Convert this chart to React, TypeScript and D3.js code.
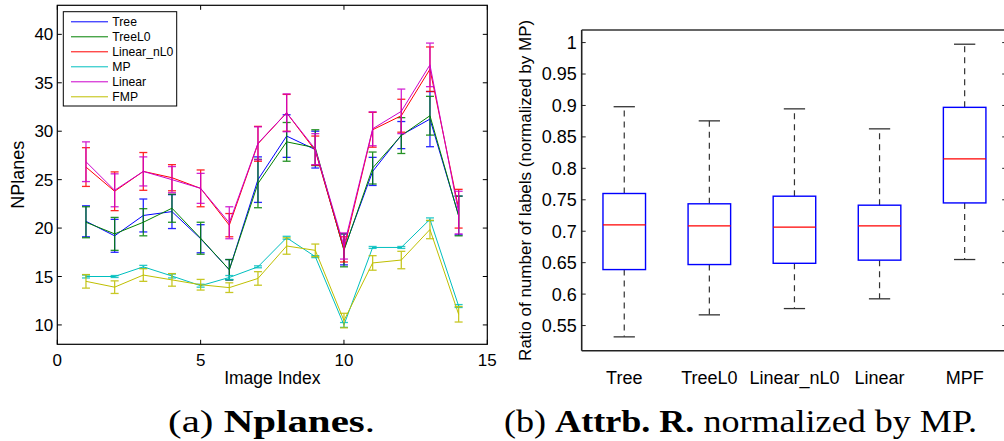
import React from 'react';
import * as d3 from 'd3';

// ---------- Data: left chart (NPlanes per image) ----------
const imageIndex = [1, 2, 3, 4, 5, 6, 7, 8, 9, 10, 11, 12, 13, 14];
const seriesNames = ['Tree', 'TreeL0', 'Linear_nL0', 'MP', 'Linear', 'FMP'];
const seriesColors = ['#0000ff', '#008000', '#ff0000', '#00bfbf', '#cc00cc', '#bfbf00'];

const treeVals = [20.7, 19.2, 21.3, 21.7, 18.9, 15.7, 25.0, 29.5, 28.1, 17.8, 25.85, 29.6, 31.25, 21.3];
const treeErr = [1.6, 1.7, 1.7, 1.75, 1.45, 1.05, 2.35, 2.2, 1.9, 1.6, 1.45, 1.4, 2.85, 2.0];
const treeL0Vals = [20.6, 19.4, 20.6, 22.05, 18.95, 15.7, 24.6, 28.9, 28.3, 17.7, 26.2, 29.55, 31.6, 21.25];
const treeL0Err = [1.6, 1.7, 1.4, 1.45, 1.65, 1.05, 2.5, 2.0, 1.85, 1.7, 1.65, 1.85, 2.0, 2.05];
const linearNL0Vals = [26.3, 23.8, 25.85, 25.2, 24.1, 20.3, 28.7, 31.9, 28.0, 17.8, 30.15, 31.6, 36.4, 22.0];
const linearNL0Err = [2.0, 2.0, 1.95, 1.35, 1.9, 1.2, 1.8, 1.9, 1.5, 1.3, 1.8, 1.7, 2.3, 2.0];
const mpVals = [15.0, 15.0, 16.0, 15.05, 14.05, 14.9, 16.0, 19.0, 17.05, 10.0, 18.0, 18.0, 20.9, 11.95];
const mpErr = [0.15, 0.1, 0.15, 0.2, 0.15, 0.2, 0.1, 0.15, 0.1, 0.25, 0.1, 0.1, 0.15, 0.15];
const linearVals = [26.85, 23.9, 25.85, 25.0, 24.1, 20.55, 28.75, 31.9, 28.15, 18.15, 30.25, 32.05, 36.85, 21.6];
const linearErr = [2.05, 1.7, 1.5, 1.35, 1.55, 1.65, 1.7, 1.95, 1.6, 1.35, 1.75, 2.3, 2.25, 2.2];
const fmpVals = [14.5, 13.9, 15.15, 14.65, 14.15, 13.85, 14.8, 18.15, 17.7, 10.45, 16.4, 16.7, 19.85, 11.1];
const fmpErr = [0.7, 0.65, 0.65, 0.65, 0.55, 0.5, 0.7, 0.85, 0.65, 0.75, 0.75, 0.9, 0.95, 0.8];

const leftXTicks = [0, 5, 10, 15];
const leftYTicks = [10, 15, 20, 25, 30, 35, 40];

// ---------- Data: right chart (box plot) ----------
const boxCategories = ['Tree', 'TreeL0', 'Linear_nL0', 'Linear', 'MPF'];
const boxLowerWhisker = [0.532, 0.567, 0.577, 0.5925, 0.655];
const boxQ1 = [0.639, 0.647, 0.649, 0.654, 0.745];
const boxMedian = [0.71, 0.7086, 0.7064, 0.7086, 0.815];
const boxQ3 = [0.76, 0.7436, 0.7557, 0.7414, 0.897];
const boxUpperWhisker = [0.898, 0.8755, 0.8946, 0.8628, 0.9974];
const rightYTicks = [0.55, 0.6, 0.65, 0.7, 0.75, 0.8, 0.85, 0.9, 0.95, 1];

const SANS = '"Liberation Sans", Arial, Helvetica, sans-serif';
const SERIF = '"Liberation Serif", "Times New Roman", serif';

export default function App() {
  // Left chart scales
  const xL = d3.scaleLinear().domain([0, 15]).range([57.3, 487.3]);
  const yL = d3.scaleLinear().domain([8, 43]).range([344.3, 5.3]);
  const L = { left: 57.3, right: 487.3, top: 5.3, bottom: 344.3 };

  const seriesVals = [treeVals, treeL0Vals, linearNL0Vals, mpVals, linearVals, fmpVals];
  const seriesErr = [treeErr, treeL0Err, linearNL0Err, mpErr, linearErr, fmpErr];

  const line = d3
    .line<number>()
    .x((_, i) => xL(imageIndex[i]))
    .y((d) => yL(d));

  // Right chart scales
  const xR = d3.scaleLinear().domain([0.5, 5.5]).range([581.7, 1007.2]);
  const yR = d3.scaleLinear().domain([0.51, 1.02]).range([350.7, 30]);
  const R = { left: 581.7, right: 1007.2, top: 30, bottom: 350.7 };
  const boxHalf = (xR(1.25) - xR(1)) ;
  const capHalf = (xR(1.125) - xR(1));

  const fmtR = (v: number) => (v === 1 ? '1' : d3.format('.2~f')(v));

  return (
    <svg
      width={1004}
      height={441}
      style={{ position: 'absolute', left: 0, top: 0, background: '#fff' }}
      xmlns="http://www.w3.org/2000/svg"
    >
      <rect x={0} y={0} width={1004} height={441} fill="#fff" />

      {/* ================= LEFT CHART ================= */}
      <g>
        {/* series lines and error bars */}
        {seriesVals.map((vals, si) => (
          <g key={seriesNames[si]}>
            {vals.map((v, i) => {
              const x = xL(imageIndex[i]);
              const e = seriesErr[si][i];
              return (
                <g key={i} stroke={seriesColors[si]} strokeWidth={1} opacity={0.85}>
                  <line x1={x} x2={x} y1={yL(v + e)} y2={yL(v - e)} strokeWidth={1.3} />
                  <line x1={x - 4} x2={x + 4} y1={yL(v + e)} y2={yL(v + e)} strokeWidth={1.3} />
                  <line x1={x - 4} x2={x + 4} y1={yL(v - e)} y2={yL(v - e)} strokeWidth={1.3} />
                </g>
              );
            })}
            <path d={line(vals) || ''} fill="none" stroke={seriesColors[si]} strokeWidth={1} />
          </g>
        ))}

        {/* frame */}
        <rect
          x={L.left}
          y={L.top}
          width={L.right - L.left}
          height={L.bottom - L.top}
          fill="none"
          stroke="#000"
          strokeWidth={1.2}
        />
        {/* ticks */}
        {leftYTicks.map((t) => (
          <g key={'ly' + t}>
            <line x1={L.left} x2={L.left + 4.5} y1={yL(t)} y2={yL(t)} stroke="#000" strokeWidth={1} />
            <line x1={L.right} x2={L.right - 4.5} y1={yL(t)} y2={yL(t)} stroke="#000" strokeWidth={1} />
            <text
              x={L.left - 4}
              y={yL(t)}
              dy="0.36em"
              textAnchor="end"
              fontFamily={SANS}
              fontSize={17}
              fill="#000"
            >
              {t}
            </text>
          </g>
        ))}
        {leftXTicks.map((t) => (
          <g key={'lx' + t}>
            <line x1={xL(t)} x2={xL(t)} y1={L.bottom} y2={L.bottom - 4.5} stroke="#000" strokeWidth={1} />
            <line x1={xL(t)} x2={xL(t)} y1={L.top} y2={L.top + 4.5} stroke="#000" strokeWidth={1} />
            <text x={xL(t)} y={366} textAnchor="middle" fontFamily={SANS} fontSize={17} fill="#000">
              {t}
            </text>
          </g>
        ))}
        <text x={272.3} y={384} textAnchor="middle" fontFamily={SANS} fontSize={17.5} fill="#000">
          Image Index
        </text>
        <text
          transform={`translate(23.5,${(L.top + L.bottom) / 2}) rotate(-90)`}
          textAnchor="middle"
          fontFamily={SANS}
          fontSize={18}
          fill="#000"
        >
          NPlanes
        </text>

        {/* legend */}
        <rect x={63.3} y={11.7} width={113.4} height={94.3} fill="#fff" stroke="#000" strokeWidth={1} />
        {seriesNames.map((name, i) => {
          const yy = 21.8 + i * 15;
          return (
            <g key={'lg' + name}>
              <line x1={71} x2={108} y1={yy} y2={yy} stroke={seriesColors[i]} strokeWidth={1} />
              <text x={112.3} y={yy} dy="0.36em" fontFamily={SANS} fontSize={12.2} fill="#000">
                {name}
              </text>
            </g>
          );
        })}
      </g>

      {/* ================= RIGHT CHART ================= */}
      <g>
        {boxCategories.map((c, i) => {
          const cx = xR(i + 1);
          return (
            <g key={'box' + c}>
              {/* whiskers */}
              <line
                x1={cx}
                x2={cx}
                y1={yR(boxQ3[i])}
                y2={yR(boxUpperWhisker[i])}
                stroke="#333"
                strokeWidth={1.2}
                strokeDasharray="6,5"
              />
              <line
                x1={cx}
                x2={cx}
                y1={yR(boxQ1[i])}
                y2={yR(boxLowerWhisker[i])}
                stroke="#333"
                strokeWidth={1.2}
                strokeDasharray="6,5"
              />
              <line
                x1={cx - capHalf}
                x2={cx + capHalf}
                y1={yR(boxUpperWhisker[i])}
                y2={yR(boxUpperWhisker[i])}
                stroke="#333"
                strokeWidth={1.3}
              />
              <line
                x1={cx - capHalf}
                x2={cx + capHalf}
                y1={yR(boxLowerWhisker[i])}
                y2={yR(boxLowerWhisker[i])}
                stroke="#333"
                strokeWidth={1.3}
              />
              {/* box */}
              <rect
                x={cx - boxHalf}
                y={yR(boxQ3[i])}
                width={boxHalf * 2}
                height={yR(boxQ1[i]) - yR(boxQ3[i])}
                fill="none"
                stroke="#0000ff"
                strokeWidth={1.4}
              />
              <line
                x1={cx - boxHalf}
                x2={cx + boxHalf}
                y1={yR(boxMedian[i])}
                y2={yR(boxMedian[i])}
                stroke="#ff0000"
                strokeWidth={1.3}
              />
              <text x={cx} y={383.5} textAnchor="middle" fontFamily={SANS} fontSize={18} fill="#000">
                {c}
              </text>
            </g>
          );
        })}

        {/* spines */}
        <line x1={R.left} x2={R.left} y1={R.top} y2={R.bottom} stroke="#222" strokeWidth={1.6} />
        <line x1={R.left} x2={R.right} y1={R.top} y2={R.top} stroke="#333" strokeWidth={1.6} />
        <line x1={R.left} x2={R.right} y1={R.bottom} y2={R.bottom} stroke="#222" strokeWidth={1.6} />
        <line x1={R.right} x2={R.right} y1={R.top} y2={R.bottom} stroke="#222" strokeWidth={1.6} />
        {rightYTicks.map((t) => (
          <g key={'ry' + t}>
            <line x1={R.left} x2={R.left + 4} y1={yR(t)} y2={yR(t)} stroke="#222" strokeWidth={1} />
            <line x1={R.right} x2={R.right - 5} y1={yR(t)} y2={yR(t)} stroke="#222" strokeWidth={1} />
            <text
              x={R.left - 5}
              y={yR(t)}
              dy="0.36em"
              textAnchor="end"
              fontFamily={SANS}
              fontSize={18}
              fill="#000"
            >
              {fmtR(t)}
            </text>
          </g>
        ))}
        <text
          transform={`translate(531,${(R.top + R.bottom) / 2}) rotate(-90)`}
          textAnchor="middle"
          fontFamily={SANS}
          fontSize={17}
          fill="#000"
        >
          Ratio of number of labels (normalized by MP)
        </text>
      </g>

      {/* ================= CAPTIONS ================= */}
      <text
        x={168}
        y={432}
        fontFamily={SERIF}
        fontSize={32}
        fill="#000"
        textLength={207}
        lengthAdjust="spacingAndGlyphs"
      >
        <tspan>(a) </tspan>
        <tspan fontWeight="bold">Nplanes</tspan>
        <tspan>.</tspan>
      </text>
      <text
        x={504}
        y={432}
        fontFamily={SERIF}
        fontSize={32}
        fill="#000"
        textLength={473}
        lengthAdjust="spacingAndGlyphs"
      >
        <tspan>(b) </tspan>
        <tspan fontWeight="bold">Attrb. R.</tspan>
        <tspan> normalized by MP.</tspan>
      </text>
    </svg>
  );
}
